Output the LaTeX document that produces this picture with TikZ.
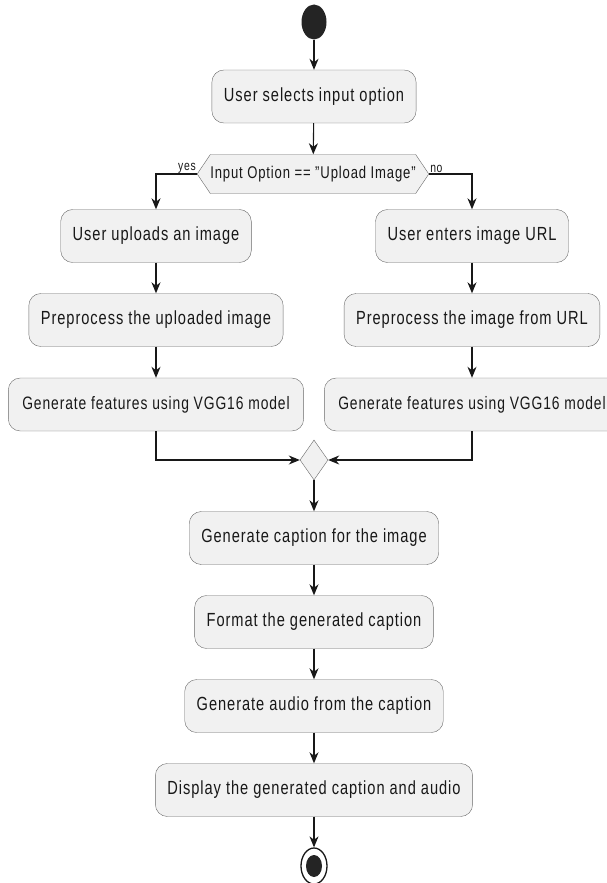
\documentclass[tikz,border=0pt]{standalone}
\usepackage{fontspec}
\setmainfont[FakeStretch=0.77,LetterSpace=5]{Liberation Sans}
\usepackage{xcolor}
\usetikzlibrary{shapes.geometric,shapes.symbols,arrows.meta}
\definecolor{actfill}{HTML}{F1F1F1}
\definecolor{actline}{HTML}{181818}
\tikzset{
  action/.style={draw=actline!65, fill=actfill, rounded corners=12pt, minimum height=53pt,
    inner xsep=12pt, text=actline, font=\fontsize{19}{22}\selectfont},
  wideaction/.style={action, inner xsep=14pt, font=\fontsize{18}{21}\selectfont},
  choice/.style={draw=actline!65, fill=actfill, signal, signal to=west and east,
    signal pointer angle=112, minimum height=39pt, inner xsep=0pt, text=actline,
    font=\fontsize{17}{20}\selectfont},
  merge/.style={draw=actline!65, fill=actfill, diamond, minimum width=28pt,
    minimum height=40pt, inner sep=0pt},
  guard/.style={inner sep=1pt, text=actline, font=\fontsize{13.5}{15}\selectfont},
  flow/.style={draw=actline, line width=1.1pt, -{Stealth[length=11pt,width=9pt,inset=3.5pt]}}
}

\begin{document}
\begin{tikzpicture}[x=1pt,y=-1pt]
  \useasboundingbox (0,0) rectangle (607,883);
  \node[ellipse, fill=actline!95, minimum width=25pt, minimum height=35pt, inner sep=0pt] (start) at (314,22) {};
  \node[action] (select) at (314,96.5) {User selects input option};
  \node[choice] (choice) at (313,174) {Input Option == "Upload Image"};
  % left branch
  \node[action] (upload) at (156,236) {User uploads an image};
  \node[action] (prepup) at (156,320) {Preprocess the uploaded image};
  \node[wideaction] (featup) at (156,404.5) {Generate features using VGG16 model};
  % right branch
  \node[action] (enter) at (472,236) {User enters image URL};
  \node[action] (prepurl) at (472,320) {Preprocess the image from URL};
  \node[wideaction] (featurl) at (472,404.5) {Generate features using VGG16 model};
  \node[merge] (merge) at (314,460) {};
  \node[action] (caption) at (314,538) {Generate caption for the image};
  \node[action] (format) at (314,622) {Format the generated caption};
  \node[action] (audio) at (314,706) {Generate audio from the caption};
  \node[action] (display) at (314,790) {Display the generated caption and audio};
  \node[ellipse, draw=actline, line width=1.3pt, fill=white, minimum width=26pt, minimum height=36pt, inner sep=0pt] (stop) at (314,866) {};
  \node[ellipse, fill=actline!95, minimum width=16pt, minimum height=22pt, inner sep=0pt] (stopdot) at (stop) {};

  \node[guard, anchor=south east] (yes) at (choice.west) {yes};
  \node[guard, anchor=south west] (no) at (choice.east) {no};

  \draw[flow] (start) -- (select);
  \draw[flow] (select) -- (choice);
  \draw[flow] (choice.west) -| (upload.north);
  \draw[flow] (choice.east) -| (enter.north);
  \draw[flow] (upload) -- (prepup);
  \draw[flow] (prepup) -- (featup);
  \draw[flow] (enter) -- (prepurl);
  \draw[flow] (prepurl) -- (featurl);
  \draw[flow] (featup.south) |- (merge.west);
  \draw[flow] (featurl.south) |- (merge.east);
  \draw[flow] (merge) -- (caption);
  \draw[flow] (caption) -- (format);
  \draw[flow] (format) -- (audio);
  \draw[flow] (audio) -- (display);
  \draw[flow] (display) -- (stop);
\end{tikzpicture}
\end{document}
